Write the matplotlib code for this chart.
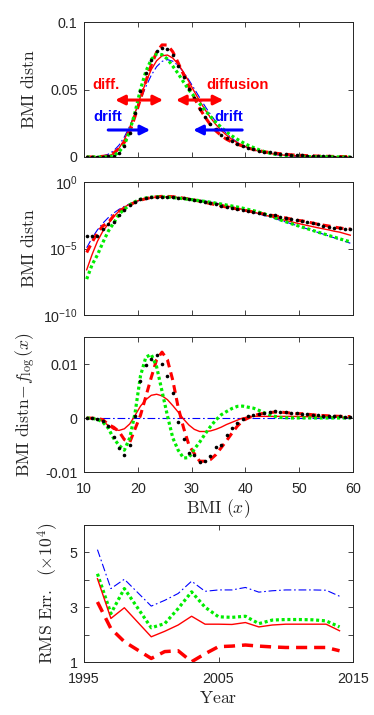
import numpy as np
import matplotlib
matplotlib.use('Agg')
import matplotlib.pyplot as plt
from matplotlib.ticker import FixedLocator, FixedFormatter, NullLocator

plt.rcParams['font.family'] = ['Liberation Sans', 'DejaVu Sans']
plt.rcParams['axes.unicode_minus'] = False
plt.rcParams['mathtext.fontset'] = 'custom'
plt.rcParams['mathtext.rm'] = 'Liberation Sans'
plt.rcParams['mathtext.it'] = 'Liberation Sans:italic'
plt.rcParams['mathtext.bf'] = 'Liberation Sans:bold'
plt.rcParams['mathtext.sf'] = 'Liberation Sans'

# ---------------- data: BMI distributions (bin centres) ----------------
bmi = np.arange(10.5, 60.0, 1.0)

f_log = [1.13e-5, 6.19e-5, 2.51e-4, 7.97e-4, 2.07e-3, 4.56e-3, 8.74e-3, 0.01486, 0.02289, 0.03232,
         0.04238, 0.05212, 0.06053, 0.06692, 0.07083, 0.07214, 0.07097, 0.06775, 0.06292, 0.05703,
         0.05057, 0.04397, 0.03757, 0.03159, 0.02617, 0.02141, 0.0173, 0.01384, 0.01095, 0.0086,
         0.0067, 0.00518, 0.00398, 0.00303, 0.0023, 0.00174, 0.00131, 0.00098, 0.00073, 0.000543,
         0.000402, 0.000298, 0.000219, 0.000161, 0.000119, 8.7e-5, 6.4e-5, 4.6e-5, 3.4e-5, 2.5e-5]

data_dist = [9.0e-5, 8.0e-5, 8.0e-5, 2.8e-4, 6.7e-4, 1.06e-3, 3.24e-3, 7.96e-3, 0.01789, 0.03272,
             0.04918, 0.06192, 0.07153, 0.07862, 0.08083, 0.07994, 0.07557, 0.06705, 0.05912, 0.05053,
             0.04377, 0.03587, 0.02957, 0.02459, 0.02087, 0.01641, 0.0142, 0.01204, 0.00995, 0.0085,
             0.0070, 0.00578, 0.00478, 0.00403, 0.0035, 0.00304, 0.00251, 0.00208, 0.00173, 0.00144,
             0.0012, 0.0010, 0.00082, 0.00066, 0.00052, 0.00042, 0.00036, 0.00033, 0.00029, 0.00028]

model_solid = [2.5e-7, 3.5e-6, 3.5e-5, 2.0e-4, 7.0e-4, 0.00246, 0.00644, 0.01286, 0.02179, 0.03282,
               0.04458, 0.05552, 0.06473, 0.07132, 0.07493, 0.07554, 0.07327, 0.06885, 0.06272, 0.05573,
               0.04847, 0.04147, 0.03507, 0.02919, 0.02407, 0.01971, 0.0161, 0.01304, 0.01055, 0.0086,
               0.0069, 0.00548, 0.00428, 0.00333, 0.0026, 0.00204, 0.00161, 0.00128, 0.00103, 0.00082,
               0.00066, 0.00054, 0.00044, 0.00036, 0.0003, 0.00025, 0.0002, 0.00017, 0.00013, 0.0001]

model_dashed = [5e-6, 3e-5, 1.5e-4, 5e-4, 0.00087, 0.00286, 0.00624, 0.01086, 0.01839, 0.03032,
                0.04288, 0.05612, 0.06803, 0.07772, 0.08303, 0.08294, 0.07797, 0.06975, 0.06112, 0.05203,
                0.04397, 0.03597, 0.02957, 0.02389, 0.01937, 0.01591, 0.0131, 0.01104, 0.00945, 0.0081,
                0.0067, 0.00558, 0.00468, 0.00393, 0.0033, 0.00284, 0.00241, 0.00198, 0.00163, 0.00134,
                0.0012, 0.0010, 0.00082, 0.00066, 0.00057, 0.00049, 0.00041, 0.00035, 0.00031, 0.00029]

model_dotted = [5e-8, 6e-7, 3.3e-6, 2.8e-5, 1.95e-4, 8e-4, 0.0037, 0.0089, 0.0192, 0.0333,
                0.0502, 0.0634, 0.0723, 0.0764, 0.0758, 0.0726, 0.0673, 0.0618, 0.0555, 0.0497,
                0.0448, 0.0395, 0.0346, 0.0300, 0.0258, 0.0220, 0.0185, 0.0156, 0.0131, 0.0108,
                0.0087, 0.0070, 0.0054, 0.0040, 0.0029, 0.00204, 0.00141, 0.00103, 0.00074, 0.00055,
                0.00041, 0.00031, 0.00023, 0.00017, 0.000128, 0.000095, 0.000072, 0.000054, 0.000041, 0.000032]

# ---------------- data: RMS error by year ----------------
years = [1996, 1997, 1998, 2000, 2001, 2002, 2003, 2004, 2005, 2006, 2007, 2008, 2009, 2010, 2011, 2012, 2013, 2014]
rms_flog = [5.1, 3.68, 4.02, 3.04, 3.25, 3.5, 3.95, 3.58, 3.63, 3.63, 3.72, 3.55, 3.6, 3.63, 3.63, 3.63, 3.62, 3.4]
rms_dotted = [4.22, 2.77, 3.68, 2.25, 2.4, 2.95, 3.56, 3.0, 2.65, 2.63, 2.67, 2.4, 2.53, 2.55, 2.55, 2.54, 2.5, 2.28]
rms_solid = [4.04, 2.59, 2.98, 1.92, 2.12, 2.35, 2.67, 2.38, 2.38, 2.37, 2.44, 2.28, 2.35, 2.38, 2.38, 2.38, 2.38, 2.14]
rms_dashed = [3.19, 2.22, 1.74, 1.13, 1.38, 1.41, 1.01, 1.3, 1.56, 1.58, 1.62, 1.58, 1.55, 1.53, 1.53, 1.53, 1.53, 1.41]

# ---------------- styles ----------------
AX_COL = (0.15, 0.15, 0.15)
GREEN = (0.0, 0.93, 0.0)
st_flog = dict(color='blue', lw=0.8, linestyle=(0, (7, 2.5, 1.5, 2.5)))
st_solid = dict(color='red', lw=1.0, linestyle='-')
st_dashed = dict(color='red', lw=2.2, linestyle=(0, (2.6, 1.7)))
st_dashed4 = dict(color='red', lw=2.5, linestyle=(0, (3.2, 2.0)))
st_dotted = dict(color=GREEN, lw=2.3, linestyle=(0, (0.95, 0.85)))
st_data = dict(color='black', linestyle='none', marker='o', ms=2.6, mew=0)

fig = plt.figure(figsize=(3.74, 7.15), dpi=100)
L, W = 84 / 374, 269 / 374


def make_ax(top, bottom):
    return fig.add_axes([L, 1 - bottom / 715, W, (bottom - top) / 715])


def style(ax):
    ax.tick_params(direction='in', top=True, right=True, length=3.5, width=0.6,
                   colors=AX_COL, labelsize=10.3, pad=4.5)
    ax.tick_params(axis='x', pad=7)
    for s in ax.spines.values():
        s.set_color(AX_COL)
        s.set_linewidth(0.7)


LABEL_KW = dict(fontsize=12.7, math_fontfamily='cm', color=AX_COL)

# ---- panel 1 ----
ax1 = make_ax(22, 157)
ax1.plot(bmi, f_log, **st_flog)
ax1.plot(bmi, model_solid, **st_solid)
ax1.plot(bmi, model_dashed, **st_dashed)
ax1.plot(bmi, model_dotted, **st_dotted)
ax1.plot(bmi, data_dist, **st_data)
ax1.set_xlim(10, 60)
ax1.set_ylim(0, 0.1)
ax1.set_xticks([10, 20, 30, 40, 50, 60])
ax1.set_xticklabels([])
ax1.set_yticks([0, 0.05, 0.1])
ax1.set_yticklabels(['0', '0.05', '0.1'])
ax1.set_ylabel(r'$\mathrm{BMI\ distn}$', **LABEL_KW)
ax1.yaxis.set_label_coords(-0.17, 0.5)
style(ax1)

arrow_red = dict(arrowstyle='<|-|>', color='red', lw=2.2, mutation_scale=14, shrinkA=0, shrinkB=0)
arrow_blue = dict(arrowstyle='-|>', color='blue', lw=2.2, mutation_scale=14, shrinkA=0, shrinkB=0)
ax1.annotate('', xy=(24.7, 0.0422), xytext=(15.8, 0.0422), arrowprops=arrow_red)
ax1.annotate('', xy=(35.9, 0.0422), xytext=(27.1, 0.0422), arrowprops=arrow_red)
ax1.annotate('', xy=(22.3, 0.0200), xytext=(14.5, 0.0200), arrowprops=arrow_blue)
ax1.annotate('', xy=(30.3, 0.0200), xytext=(39.4, 0.0200), arrowprops=arrow_blue)
TXT = dict(fontsize=10.6, fontweight='bold', va='center', ha='left')
ax1.text(11.5, 0.0533, 'diff.', color='red', **TXT)
ax1.text(32.8, 0.0533, 'diffusion', color='red', **TXT)
ax1.text(11.7, 0.0296, 'drift', color='blue', **TXT)
ax1.text(34.3, 0.0296, 'drift', color='blue', **TXT)

# ---- panel 2 (log) ----
ax2 = make_ax(182, 315)
ax2.plot(bmi, f_log, **st_flog)
ax2.plot(bmi, model_solid, **st_solid)
ax2.plot(bmi, model_dashed, **st_dashed)
ax2.plot(bmi, model_dotted, **st_dotted)
ax2.plot(bmi, data_dist, **st_data)
ax2.set_yscale('log')
ax2.set_xlim(10, 60)
ax2.set_ylim(1e-10, 1)
ax2.set_xticks([10, 20, 30, 40, 50, 60])
ax2.set_xticklabels([])
ax2.yaxis.set_major_locator(FixedLocator([1e-10, 1e-5, 1]))
ax2.yaxis.set_major_formatter(FixedFormatter([r'$10^{-10}$', r'$10^{-5}$', r'$10^{0}$']))
ax2.yaxis.set_minor_locator(NullLocator())
ax2.set_ylabel(r'$\mathrm{BMI\ distn}$', **LABEL_KW)
ax2.yaxis.set_label_coords(-0.17, 0.5)
style(ax2)

# ---- panel 3 (residuals) ----
ax3 = make_ax(337, 472)
flog_arr = np.array(f_log)
ax3.plot(bmi, flog_arr - flog_arr, **st_flog)
ax3.plot(bmi, np.array(model_dashed) - flog_arr, **st_dashed)
ax3.plot(bmi, np.array(model_solid) - flog_arr, **st_solid)
ax3.plot(bmi, np.array(model_dotted) - flog_arr, **st_dotted)
ax3.plot(bmi, np.array(data_dist) - flog_arr, **st_data)
ax3.set_xlim(10, 60)
ax3.set_ylim(-0.01, 0.015)
ax3.set_xticks([10, 20, 30, 40, 50, 60])
ax3.set_yticks([-0.01, 0, 0.01])
ax3.set_yticklabels(['-0.01', '0', '0.01'])
ax3.set_ylabel(r'$\mathrm{BMI\ distn}\!-\!f_{\log}(x)$', **LABEL_KW)
ax3.yaxis.set_label_coords(-0.17, 0.5)
ax3.set_xlabel(r'$\mathrm{BMI}\ (x)$', labelpad=1, **LABEL_KW)
style(ax3)

# ---- panel 4 (RMS error) ----
ax4 = make_ax(525, 662)
ax4.plot(years, rms_flog, **st_flog)
ax4.plot(years, rms_dotted, **st_dotted)
ax4.plot(years, rms_solid, **st_solid)
ax4.plot(years, rms_dashed, **st_dashed4)
ax4.set_xlim(1995, 2015)
ax4.set_ylim(1, 6)
ax4.set_xticks([1995, 2005, 2015])
ax4.set_yticks([1, 2, 3, 4, 5, 6])
ax4.set_yticklabels(['1', '', '3', '', '5', ''])
ax4.set_ylabel(r'$\mathrm{RMS\ Err.}\ \ (\times 10^4)$', **LABEL_KW)
ax4.yaxis.set_label_coords(-0.085, 0.5)
ax4.set_xlabel(r'$\mathrm{Year}$', labelpad=3, **LABEL_KW)
style(ax4)

fig.savefig('out.png', dpi=100)
